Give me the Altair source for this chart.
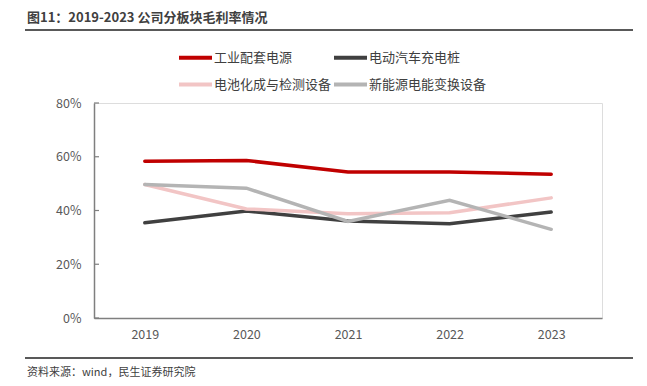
import altair as alt
import pandas as pd

years = ["2019", "2020", "2021", "2022", "2023"]
series_names = ["工业配套电源", "电动汽车充电桩", "电池化成与检测设备", "新能源电能变换设备"]
industrial = [58.3, 58.6, 54.3, 54.3, 53.5]
ev_charging = [35.4, 39.8, 36.1, 35.1, 39.4]
battery_test = [49.7, 40.6, 38.8, 39.2, 44.7]
new_energy = [49.7, 48.3, 35.9, 43.8, 33.0]
colors = ["#C00000", "#404040", "#F2C5C5", "#B4B4B4"]
y_ticks = [0, 0.2, 0.4, 0.6, 0.8]

title_text = "图11：2019-2023 公司分板块毛利率情况"
source_text = "资料来源：wind，民生证券研究院"

FONT = "Noto Sans CJK SC"

rows = []
for name, vals in zip(series_names, [industrial, ev_charging, battery_test, new_energy]):
    for y, v in zip(years, vals):
        rows.append({"year": y, "series": name, "value": v / 100})
df = pd.DataFrame(rows)

W, H = 508, 215

x_enc = alt.X("year:N", sort=years,
              scale=alt.Scale(type="point", padding=0.5),
              axis=alt.Axis(title=None, labelAngle=0, ticks=False, grid=False,
                            labelPadding=10, labelFontSize=12.5, labelColor="#595959",
                            labelFont=FONT, domainColor="#7F7F7F", domainWidth=1.5))
y_axis = alt.Axis(title=None, values=y_ticks, format=".0%", grid=False, ticks=False,
                  labelPadding=13, labelFontSize=12.5, labelColor="#595959",
                  labelFont=FONT, domainColor="#7F7F7F", domainWidth=1.5)
y_scale = alt.Scale(domain=[0, 0.8], nice=False)

lines = alt.Chart(df).mark_line(strokeWidth=3.5, strokeCap="round").encode(
    x=x_enc,
    y=alt.Y("value:Q", scale=y_scale, axis=y_axis),
    color=alt.Color("series:N",
                    scale=alt.Scale(domain=series_names, range=colors),
                    legend=alt.Legend(title=None, orient="none", legendX=83, legendY=-64,
                                      columns=2, direction="horizontal",
                                      symbolType="stroke", symbolSize=1089,
                                      symbolStrokeWidth=4, labelFontSize=13, labelFont=FONT,
                                      labelColor="#404040", labelOffset=0, columnPadding=-20,
                                      rowPadding=-5, padding=0)),
)

tick_df = pd.DataFrame({"value": y_ticks})
ticks = alt.Chart(tick_df).mark_rule(color="#7F7F7F", strokeWidth=1.2).encode(
    y=alt.Y("value:Q", scale=y_scale, axis=y_axis),
    x=alt.value(0), x2=alt.value(5),
)

one = pd.DataFrame({"a": [0]})
title = alt.Chart(one).mark_text(text=title_text, font=FONT, fontSize=13, fontWeight="bold",
                                 color="#404040", align="left", baseline="middle").encode(
    x=alt.value(-67), y=alt.value(-85))
title_line = alt.Chart(one).mark_rule(color="#595959", strokeWidth=2).encode(
    x=alt.value(-69), x2=alt.value(539), y=alt.value(-73))
source_line = alt.Chart(one).mark_rule(color="#595959", strokeWidth=2).encode(
    x=alt.value(-69), x2=alt.value(539), y=alt.value(255))
source = alt.Chart(one).mark_text(text=source_text, font=FONT, fontSize=11,
                                  color="#404040", align="left", baseline="middle").encode(
    x=alt.value(-67), y=alt.value(270))

chart = alt.layer(lines, ticks, title, title_line, source_line, source).properties(
    width=W, height=H,
    autosize=alt.AutoSizeParams(type="none"),
    padding={"left": 86, "top": 95, "right": 37, "bottom": 60},
).configure_view(stroke=None).configure(background="white")

chart.save("out.html", embed_options={"renderer": "svg", "actions": False})
